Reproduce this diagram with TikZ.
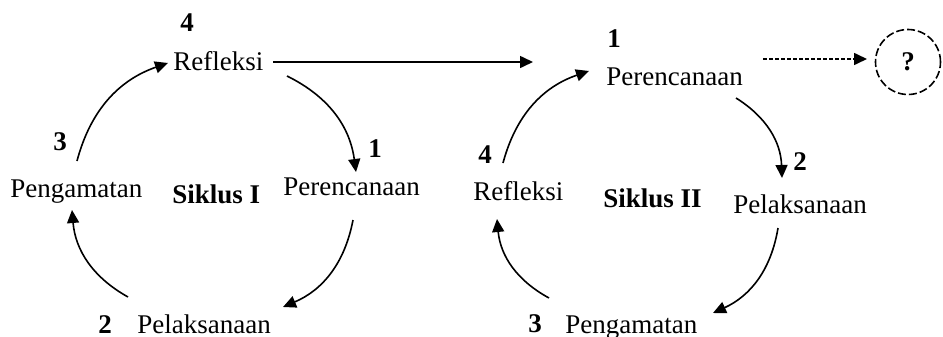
\documentclass[tikz,border=0pt]{standalone}
\usepackage{fontspec}
\setmainfont{Liberation Serif}
\usetikzlibrary{arrows.meta}
\begin{document}
\begin{tikzpicture}[x=0.5pt,y=0.5pt,
  lbl/.style={inner sep=0pt, anchor=base west, font=\fontsize{13.5}{16}\selectfont},
  num/.style={lbl, font=\fontsize{13.5}{16}\selectfont\bfseries},
  flow/.style={line width=0.8pt, -{Triangle[length=6.5pt,width=6pt]}},
  ]
\useasboundingbox (0,-337) rectangle (943,0);

% ---- first cycle ----
\node[num] (c1n4)   at (180,-32)  {4};
\node[lbl] (c1ref)  at (173,-70)  {Refleksi};
\node[num] (c1n3)   at (53,-150)  {3};
\node[lbl] (c1peng) at (10,-197)  {Pengamatan};
\node[num] (c1name) at (172,-203) {Siklus I};
\node[num] (c1n1)   at (368,-157) {1};
\node[lbl] (c1per)  at (283,-195) {Perencanaan};
\node[num] (c1n2)   at (98,-333)  {2};
\node[lbl] (c1pel)  at (137,-333) {Pelaksanaan};

% ---- second cycle ----
\node[num] (c2n1)   at (607,-47)  {1};
\node[lbl] (c2per)  at (606,-85)  {Perencanaan};
\node[num] (c2n2)   at (793,-170) {2};
\node[lbl] (c2pel)  at (733,-213) {Pelaksanaan};
\node[num] (c2n3)   at (528,-332) {3};
\node[lbl] (c2peng) at (565,-333) {Pengamatan};
\node[num] (c2n4)   at (478,-163) {4};
\node[lbl] (c2ref)  at (473,-200) {Refleksi};
\node[num] (c2name) at (603,-207) {Siklus II};

% ---- next (unknown) cycle ----
\node[draw, circle, dash pattern=on 4pt off 1.5pt, line width=0.8pt,
      minimum size=32.5pt, inner sep=0pt,
      font=\fontsize{13.5}{16}\selectfont\bfseries] (next) at (908,-62) {?};

% arrow end points
\coordinate (a1s) at (287,-76);  \coordinate (a1e) at (356,-172);
\coordinate (a2s) at (353,-220); \coordinate (a2e) at (283,-307);
\coordinate (a3s) at (128,-297); \coordinate (a3e) at (72,-210);
\coordinate (a4s) at (77,-161);  \coordinate (a4e) at (168,-63);
\coordinate (ls)  at (273,-62);  \coordinate (le)  at (533,-62);
\coordinate (b1s) at (503,-163); \coordinate (b1e) at (589,-71);
\coordinate (b2s) at (736,-98);  \coordinate (b2e) at (782,-178);
\coordinate (b3s) at (778,-228); \coordinate (b3e) at (713,-313);
\coordinate (b4s) at (549,-298); \coordinate (b4e) at (497,-219);
\coordinate (ds)  at (763,-59);  \coordinate (de)  at (867,-59);

% first cycle arrows
\draw[flow] (a1s) to[bend left=28] (a1e);
\draw[flow] (a2s) to[bend left=28] (a2e);
\draw[flow] (a3s) to[bend left=28] (a3e);
\draw[flow] (a4s) to[bend left=28] (a4e);
% link to second cycle
\draw[flow] (ls) -- (le);
% second cycle arrows
\draw[flow] (b1s) to[bend left=28] (b1e);
\draw[flow] (b2s) to[bend left=28] (b2e);
\draw[flow] (b3s) to[bend left=28] (b3e);
\draw[flow] (b4s) to[bend left=28] (b4e);
% continuation
\draw[flow, dash pattern=on 2pt off 1pt] (ds) -- (de);
\end{tikzpicture}
\end{document}
